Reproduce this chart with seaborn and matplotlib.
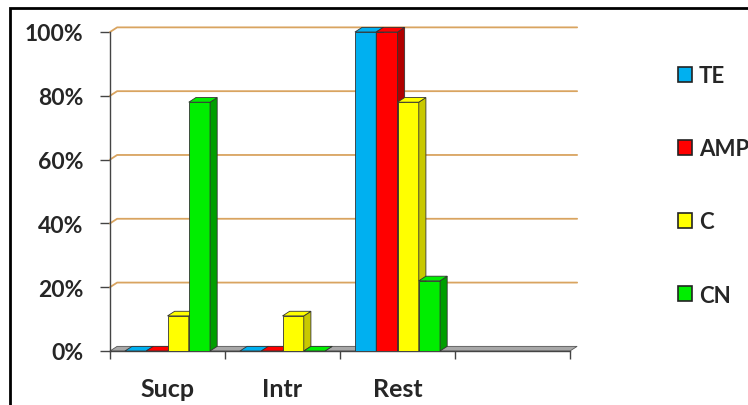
import numpy as np
import pandas as pd
import seaborn as sns
import matplotlib.pyplot as plt
from matplotlib.patches import Polygon, Patch, Rectangle
from matplotlib.ticker import FuncFormatter, FixedLocator

# data (percent)
categories = ['Sucp', 'Intr', 'Rest', '']
series = ['TE', 'AMP', 'C', 'CN']
te = [0, 0, 100]
amp = [0, 0, 100]
c = [11, 11, 78]
cn = [78, 0, 22]

front_colors = ['#00B0F0', '#FF0000', '#FFFF00', '#00EE00']
side_colors = ['#0088C0', '#B00000', '#C8C800', '#009E00']

rows = []
for name, vals in zip(series, [te, amp, c, cn]):
    for cat, v in zip(categories[:3], vals):
        rows.append({'cat': cat, 'series': name, 'value': v})
df = pd.DataFrame(rows)

sns.set_style('white')
plt.rcParams['font.family'] = ['Lato', 'DejaVu Sans']
plt.rcParams['font.weight'] = 'bold'

fig = plt.figure(figsize=(7.48, 4.06), dpi=100)
ax = fig.add_axes([110 / 748, 1 - 352 / 406, 460 / 748, 319 / 406])

sns.barplot(data=df, x='cat', y='value', hue='series', order=categories,
            hue_order=series, palette=front_colors, saturation=1, width=0.74,
            edgecolor='#333333', linewidth=0.6, legend=False, ax=ax)

ax.set_xlim(-0.5, 3.5)
ax.set_ylim(0, 100)

# depth of the fake 3d look, in data units
dx, dy = 0.062, 1.45

# back wall gridlines
for g in [20, 40, 60, 80, 100]:
    ax.plot([-0.5, -0.5 + dx, 3.5 + dx], [g, g + dy, g + dy], color='#D9A460',
            lw=1.3, zorder=1, clip_on=False)

# floor
ax.add_patch(Polygon([(-0.5, 0), (3.5, 0), (3.5 + dx, dy), (-0.5 + dx, dy)],
                     closed=True, facecolor='#A8A8A8', edgecolor='#555555',
                     lw=0.6, zorder=2, clip_on=False))

# side and top faces for every bar; later series sit in front of earlier ones
bars = [b for b in ax.patches if isinstance(b, Rectangle)]
for i, b in enumerate(bars):
    k = i // 3
    z = 3 + 0.1 * k
    b.set_zorder(z)
    x0 = b.get_x()
    w = b.get_width()
    h = b.get_height()
    if np.isnan(h):
        continue
    side = Polygon([(x0 + w, 0), (x0 + w + dx, dy), (x0 + w + dx, h + dy), (x0 + w, h)],
                   closed=True, facecolor=side_colors[k], edgecolor='#333333',
                   lw=0.6, zorder=z, clip_on=False)
    top = Polygon([(x0, h), (x0 + dx, h + dy), (x0 + w + dx, h + dy), (x0 + w, h)],
                  closed=True, facecolor=front_colors[k], edgecolor='#333333',
                  lw=0.6, zorder=z, clip_on=False)
    ax.add_patch(side)
    ax.add_patch(top)

for s in ['top', 'right']:
    ax.spines[s].set_visible(False)
ax.spines['left'].set_color('#444444')
ax.spines['bottom'].set_color('#444444')
ax.spines['left'].set_linewidth(1.0)
ax.spines['bottom'].set_linewidth(1.0)

ax.yaxis.set_major_locator(FixedLocator([0, 20, 40, 60, 80, 100]))
ax.yaxis.set_major_formatter(FuncFormatter(lambda v, p: f'{v:.0f}%'))
ax.tick_params(axis='y', left=True, length=7, width=1, color='#444444',
               labelsize=16.5, pad=12)
ax.set_xticks([0, 1, 2, 3])
ax.set_xticklabels(categories)
ax.set_xticks([-0.5, 0.5, 1.5, 2.5, 3.5], minor=True)
ax.tick_params(axis='x', which='major', bottom=False, labelsize=18, pad=15)
ax.tick_params(axis='x', which='minor', bottom=True, length=6, width=1, color='#444444')
for t in ax.get_xticklabels() + ax.get_yticklabels():
    t.set_fontweight('bold')
ax.set_xlabel('')
ax.set_ylabel('')

handles = [Patch(facecolor=col, edgecolor='#222222', lw=1.2, label=s)
           for s, col in zip(series, front_colors)]
leg = fig.legend(handles=handles, loc='upper left', bbox_to_anchor=(658 / 748, 1 - 46 / 406),
                 frameon=False, handlelength=0.65, handleheight=0.65, handletextpad=0.3,
                 labelspacing=2.35, prop={'weight': 'bold', 'size': 16})

# image border (left and top visible)
fig.patches.append(Rectangle((10 / 748, -0.05), 1.1, 1 - 9 / 406 + 0.05,
                             transform=fig.transFigure, fill=False,
                             edgecolor='black', lw=2.0))

fig.savefig('out.png', dpi=100)
